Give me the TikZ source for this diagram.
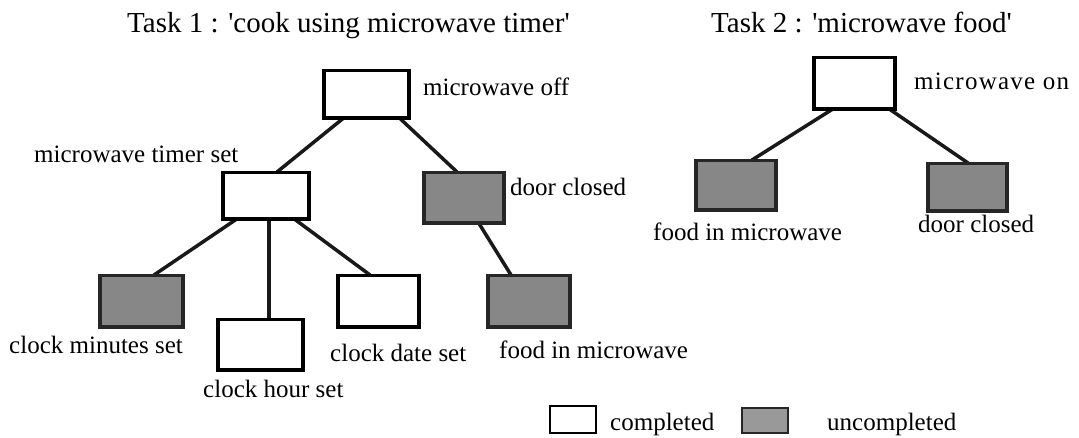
\documentclass[tikz,border=0pt]{standalone}
\usepackage{fontspec}
\setmainfont{Liberation Serif}
\newfontfamily\spacedfont[LetterSpace=5]{Liberation Serif}
\begin{document}
\begin{tikzpicture}[x=1pt,y=-1pt,
  box/.style={draw=black, line width=2.5pt, fill=white, inner sep=0pt, anchor=north west},
  gbox/.style={box, fill=black!47, draw=black!85},
  lbl/.style={anchor=base west, inner sep=0pt, font=\fontsize{25}{30}\selectfont},
  ttl/.style={anchor=base west, inner sep=0pt, font=\fontsize{29}{34}\selectfont},
  conn/.style={line width=3.5pt, draw=black!90}
]
\useasboundingbox (0,0) rectangle (1079,438);

% titles
\node[ttl] (t1) at (127,33) {Task 1 : \textquotesingle cook using microwave timer\textquotesingle};
\node[ttl] (t2) at (711,33) {Task 2 : \textquotesingle microwave food\textquotesingle};

% Task 1 boxes
\node[box, minimum width=84pt, minimum height=46pt] (mwoff) at (323,70) {};
\node[box, minimum width=85pt, minimum height=45pt] (timer) at (222,172) {};
\node[gbox, minimum width=79pt, minimum height=49pt] (door1) at (423,172) {};
\node[gbox, minimum width=82pt, minimum height=50pt] (minutes) at (99,275) {};
\node[box, minimum width=84pt, minimum height=49pt] (hour) at (217,319) {};
\node[box, minimum width=80pt, minimum height=50pt] (date) at (337,275) {};
\node[gbox, minimum width=81pt, minimum height=50pt] (food1) at (487,275) {};

% Task 2 boxes
\node[box, minimum width=80pt, minimum height=50pt] (mwon) at (813,57) {};
\node[gbox, minimum width=79pt, minimum height=48pt] (food2) at (695,160) {};
\node[gbox, minimum width=78pt, minimum height=46pt] (door2) at (927,163) {};

% labels
\node[lbl] (lmwoff) at (423,96) {microwave off};
\node[lbl] (ltimer) at (34,163) {microwave timer set};
\node[lbl] (ldoor1) at (510,196) {door closed};
\node[lbl] (lminutes) at (9,353) {clock minutes set};
\node[lbl] (lhour) at (203,397) {clock hour set};
\node[lbl] (ldate) at (330,361) {clock date set};
\node[lbl] (lfood1) at (499,358) {food in microwave};
\node[lbl, font=\fontsize{25}{30}\spacedfont] (lmwon) at (914,90) {microwave on};
\node[lbl] (lfood2) at (653,241) {food in microwave};
\node[lbl] (ldoor2) at (918,233) {door closed};

% connectors
\draw[conn] ([xshift=20]mwoff.south west) -- ([xshift=55]timer.north west);
\draw[conn] ([xshift=77]mwoff.south west) -- ([xshift=34]door1.north west);
\draw[conn] ([xshift=14]timer.south west) -- ([xshift=55]minutes.north west);
\draw[conn] ([xshift=47]timer.south west) -- ([xshift=47]timer.south west |- hour.north);
\draw[conn] ([xshift=73]timer.south west) -- ([xshift=33]date.north west);
\draw[conn] ([xshift=56]door1.south west) -- ([xshift=24]food1.north west);
\draw[conn] ([xshift=19]mwon.south west) -- ([xshift=57]food2.north west);
\draw[conn] ([xshift=77]mwon.south west) -- ([xshift=41]door2.north west);

% redraw box outlines over connector ends
\foreach \n in {mwoff,timer,hour,date,mwon}{
  \draw[line width=2.5pt] (\n.north west) rectangle (\n.south east);
}
\foreach \n in {door1,minutes,food1,food2,door2}{
  \draw[line width=2.5pt, draw=black!85] (\n.north west) rectangle (\n.south east);
}

% legend
\node[box, line width=2pt, minimum width=46pt, minimum height=27pt] (legw) at (549,405) {};
\node[lbl] (lcomp) at (610,430) {completed};
\node[gbox, line width=1.5pt, fill=black!40, minimum width=46pt, minimum height=25pt] (legg) at (741,407) {};
\node[lbl] (lunc) at (827,430) {uncompleted};
\end{tikzpicture}
\end{document}
